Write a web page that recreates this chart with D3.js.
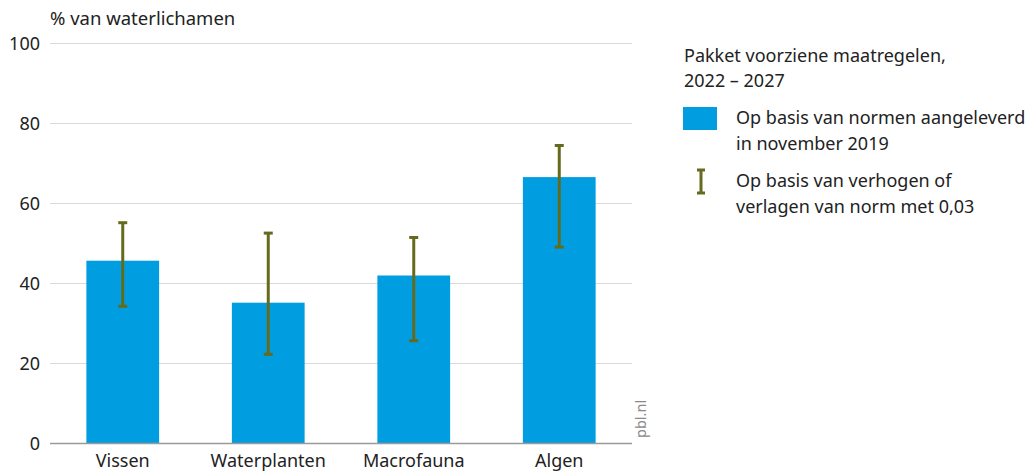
<!DOCTYPE html>
<html>
<head>
<meta charset="utf-8">
<script src="https://cdn.jsdelivr.net/npm/d3@7"></script>
<style>
  body { margin: 0; background: #fff; }
  svg { display: block; font-family: "Noto Sans", "Open Sans", sans-serif; }
</style>
</head>
<body>
<svg id="chart" width="1029" height="473"></svg>
<script>
// Share of water bodies per quality element
const categories = ["Vissen", "Waterplanten", "Macrofauna", "Algen"];
const values = [45.7, 35.2, 42.0, 66.6];
// Range when the norm is raised or lowered by 0.03
const lowValues = [34.3, 22.3, 25.7, 49.1];
const highValues = [55.2, 52.6, 51.5, 74.5];
const yTicks = [0, 20, 40, 60, 80, 100];

const svg = d3.select("#chart");
const plotLeft = 50, plotRight = 632, plotTop = 43.5, plotBottom = 443.5;
const fontSize = 18;

const x = d3.scaleBand().domain(categories).range([plotLeft, plotRight]).paddingInner(0.5).paddingOuter(0.25);
const y = d3.scaleLinear().domain([0, 100]).range([plotBottom, plotTop]);

// Horizontal gridlines
svg.append("g").selectAll("line").data(yTicks.filter(d => d > 0)).join("line")
  .attr("x1", plotLeft).attr("x2", plotRight)
  .attr("y1", d => y(d)).attr("y2", d => y(d))
  .attr("stroke", "#dadada").attr("stroke-width", 1.2);

// Y axis labels
const yAxis = d3.axisLeft(y).tickValues(yTicks).tickSize(0).tickPadding(10);
svg.append("g").attr("transform", `translate(${plotLeft},0)`).call(yAxis)
  .call(g => g.select(".domain").remove())
  .call(g => g.selectAll("text").attr("font-size", fontSize).attr("fill", "#222")
    .attr("font-family", "\"Noto Sans\", sans-serif"));

// Bars
svg.append("g").selectAll("rect").data(categories).join("rect")
  .attr("x", d => x(d)).attr("width", x.bandwidth())
  .attr("y", (d, i) => y(values[i]))
  .attr("height", (d, i) => y(0) - y(values[i]))
  .attr("fill", "#009ee0");

// Baseline
svg.append("line").attr("x1", plotLeft).attr("x2", plotRight)
  .attr("y1", y(0)).attr("y2", y(0)).attr("stroke", "#9a9a9a").attr("stroke-width", 1.4);

// Error bars
const errColor = "#656a1c";
const cap = 4.5;
const eb = svg.append("g").selectAll("g").data(categories).join("g")
  .attr("transform", d => `translate(${x(d) + x.bandwidth() / 2},0)`);
eb.append("line").attr("y1", (d, i) => y(highValues[i])).attr("y2", (d, i) => y(lowValues[i]))
  .attr("stroke", errColor).attr("stroke-width", 3);
eb.append("line").attr("x1", -cap).attr("x2", cap)
  .attr("y1", (d, i) => y(highValues[i])).attr("y2", (d, i) => y(highValues[i]))
  .attr("stroke", errColor).attr("stroke-width", 3);
eb.append("line").attr("x1", -cap).attr("x2", cap)
  .attr("y1", (d, i) => y(lowValues[i])).attr("y2", (d, i) => y(lowValues[i]))
  .attr("stroke", errColor).attr("stroke-width", 3);

// X axis labels
const xAxis = d3.axisBottom(x).tickSize(0).tickPadding(11);
svg.append("g").attr("transform", `translate(0,${plotBottom})`).call(xAxis)
  .call(g => g.select(".domain").remove())
  .call(g => g.selectAll("text").attr("font-size", fontSize).attr("fill", "#222")
    .attr("font-family", "\"Noto Sans\", sans-serif"));

// Axis title
svg.append("text").attr("x", 50).attr("y", 25).attr("font-size", 18.5).attr("fill", "#222")
  .text("% van waterlichamen");

// Source label
svg.append("text").attr("transform", "translate(646,438) rotate(-90)")
  .attr("font-size", 14.5).attr("fill", "#8a8a8a").text("pbl.nl");

// Legend
const lg = svg.append("g").attr("font-size", fontSize).attr("fill", "#222");
lg.append("text").attr("x", 684).attr("y", 62).text("Pakket voorziene maatregelen,");
lg.append("text").attr("x", 684).attr("y", 87).text("2022 – 2027");
lg.append("rect").attr("x", 683).attr("y", 107).attr("width", 34).attr("height", 23).attr("fill", "#009ee0");
lg.append("text").attr("x", 736).attr("y", 124).text("Op basis van normen aangeleverd");
lg.append("text").attr("x", 736).attr("y", 150).text("in november 2019");
lg.append("line").attr("x1", 701).attr("x2", 701).attr("y1", 170).attr("y2", 193)
  .attr("stroke", errColor).attr("stroke-width", 3);
lg.append("line").attr("x1", 697).attr("x2", 705).attr("y1", 170).attr("y2", 170)
  .attr("stroke", errColor).attr("stroke-width", 3);
lg.append("line").attr("x1", 697).attr("x2", 705).attr("y1", 193).attr("y2", 193)
  .attr("stroke", errColor).attr("stroke-width", 3);
lg.append("text").attr("x", 736).attr("y", 187).text("Op basis van verhogen of");
lg.append("text").attr("x", 736).attr("y", 213).text("verlagen van norm met 0,03");
</script>
</body>
</html>
